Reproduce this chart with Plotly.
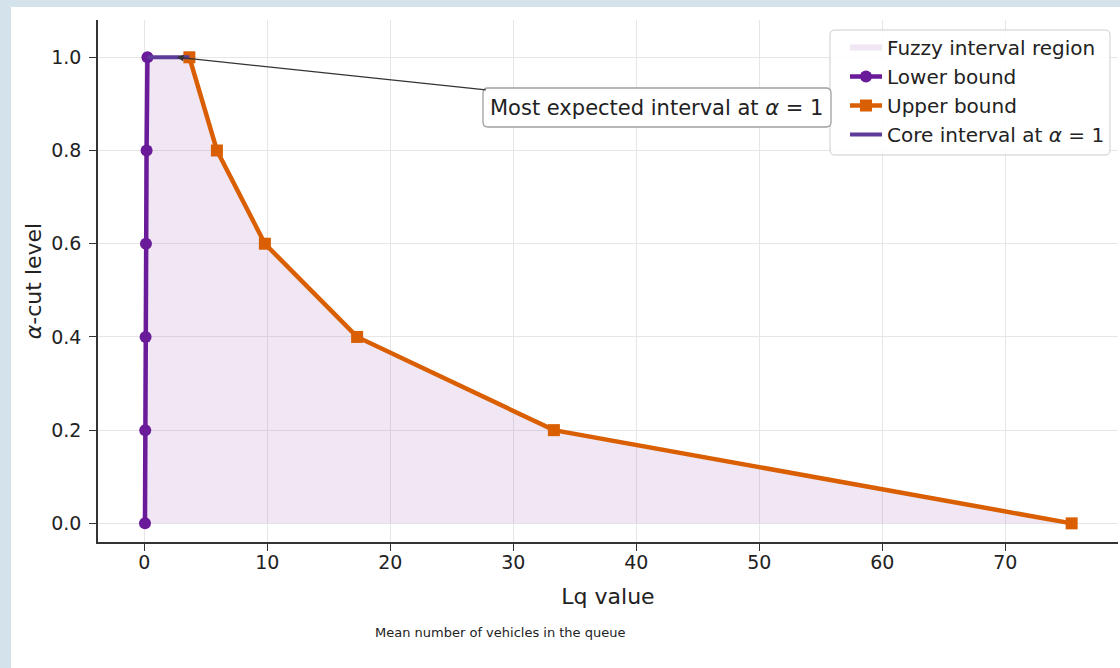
import plotly.graph_objects as go

alpha = [0.0, 0.2, 0.4, 0.6, 0.8, 1.0]
lower_bound = [0.05, 0.07, 0.10, 0.13, 0.18, 0.25]
upper_bound = [75.4, 33.3, 17.3, 9.8, 5.9, 3.66]
x_ticks = [0, 10, 20, 30, 40, 50, 60, 70]
y_ticks = [0.0, 0.2, 0.4, 0.6, 0.8, 1.0]

PURPLE = "#6a1b9a"
ORANGE = "#d95f02"
CORE = "#5e3c99"
FILL = "rgba(155,89,182,0.15)"
FONT = "DejaVu Sans"

W, H = 1120, 668
ML, MR, MT, MB = 98, 2, 20, 126
PW, PH = W - ML - MR, H - MT - MB

def px_x(px):
    return (px - ML) / PW

def px_y(py):
    return (H - MB - py) / PH

def rounded_rect(x0, y0, x1, y1, r):
    pts = [
        ("M", x0 + r, y0), ("L", x1 - r, y0), ("Q", x1, y0, x1, y0 + r),
        ("L", x1, y1 - r), ("Q", x1, y1, x1 - r, y1), ("L", x0 + r, y1),
        ("Q", x0, y1, x0, y1 - r), ("L", x0, y0 + r), ("Q", x0, y0, x0 + r, y0),
    ]
    parts = []
    for p in pts:
        cmd = p[0]
        coords = p[1:]
        s = []
        for i in range(0, len(coords), 2):
            s.append(f"{px_x(coords[i]):.5f},{px_y(coords[i+1]):.5f}")
        parts.append(cmd + " " + " ".join(s))
    return " ".join(parts) + " Z"

fig = go.Figure()

fig.add_trace(go.Scatter(
    x=lower_bound + upper_bound[::-1],
    y=alpha + alpha[::-1],
    fill="toself", fillcolor=FILL, mode="none",
    name="Fuzzy interval region", hoverinfo="skip"))

fig.add_trace(go.Scatter(
    x=lower_bound, y=alpha, mode="lines+markers", name="Lower bound",
    line=dict(color=PURPLE, width=4.5),
    marker=dict(symbol="circle", size=12, color=PURPLE)))

fig.add_trace(go.Scatter(
    x=upper_bound, y=alpha, mode="lines+markers", name="Upper bound",
    line=dict(color=ORANGE, width=4.5),
    marker=dict(symbol="square", size=12, color=ORANGE)))

fig.add_trace(go.Scatter(
    x=[lower_bound[-1], upper_bound[-1]], y=[alpha[-1], alpha[-1]],
    mode="lines", name="Core interval at <i>α</i> = 1",
    line=dict(color=CORE, width=4)))

# white page behind the chart
fig.add_shape(type="rect", xref="paper", yref="paper",
              x0=px_x(11), x1=px_x(W + 5), y0=px_y(H + 5), y1=px_y(7),
              fillcolor="white", line=dict(width=0), layer="below")

# legend frame
fig.add_shape(type="path", xref="paper", yref="paper",
              path=rounded_rect(830, 30, 1110, 155, 5),
              fillcolor="rgba(255,255,255,0.85)",
              line=dict(color="#cccccc", width=1), layer="above")

# annotation frame
fig.add_shape(type="path", xref="paper", yref="paper",
              path=rounded_rect(483, 88, 831, 127, 5),
              fillcolor="white",
              line=dict(color="#a0a0a0", width=1.3), layer="above")

fig.add_annotation(
    x=2.65, y=1.0, xref="x", yref="y",
    text="Most expected interval at <i>α</i> = 1",
    showarrow=True, ax=480, ay=50.5, axref="pixel", ayref="pixel",
    xanchor="center", yanchor="middle",
    arrowhead=2, arrowsize=1, arrowwidth=1.3, arrowcolor="#333333",
    font=dict(family=FONT, size=21, color="#222222"),
    bgcolor="rgba(0,0,0,0)", borderwidth=0, borderpad=6)

fig.add_annotation(
    x=px_x(500), y=px_y(632), xref="paper", yref="paper",
    xanchor="center", yanchor="middle",
    text="Mean number of vehicles in the queue", showarrow=False,
    font=dict(family=FONT, size=13, color="#222222"))

axis_common = dict(
    showgrid=True, gridcolor="#e6e6e6", gridwidth=1,
    showline=True, linecolor="#333333", linewidth=1.5,
    ticks="outside", ticklen=7, tickwidth=1.3, tickcolor="#333333",
    tickfont=dict(family=FONT, size=19, color="#222222"),
    zeroline=False, automargin=False)

fig.update_xaxes(range=[-3.77, 79.17], tickvals=x_ticks,
                 ticktext=[str(v) for v in x_ticks],
                 ticklabelstandoff=-5,
                 title=dict(text="Lq value", font=dict(family=FONT, size=22, color="#222222"), standoff=17),
                 **axis_common)
fig.update_yaxes(range=[-0.04, 1.08], tickvals=y_ticks,
                 ticktext=[f"{v:.1f}" for v in y_ticks],
                 ticklabelstandoff=4,
                 title=dict(text="<i>α</i>-cut level", font=dict(family=FONT, size=22, color="#222222"), standoff=4),
                 **axis_common)

fig.update_layout(
    width=W, height=H,
    margin=dict(l=ML, r=MR, t=MT, b=MB, autoexpand=False),
    paper_bgcolor="#d4e3eb", plot_bgcolor="white",
    font=dict(family=FONT, color="#222222"),
    showlegend=True,
    legend=dict(x=px_x(845), y=px_y(28), xanchor="left", yanchor="top",
                bgcolor="rgba(0,0,0,0)", borderwidth=0,
                font=dict(family=FONT, size=20, color="#222222"),
                itemwidth=32, tracegroupgap=0),
)

fig.write_html("out.html")
